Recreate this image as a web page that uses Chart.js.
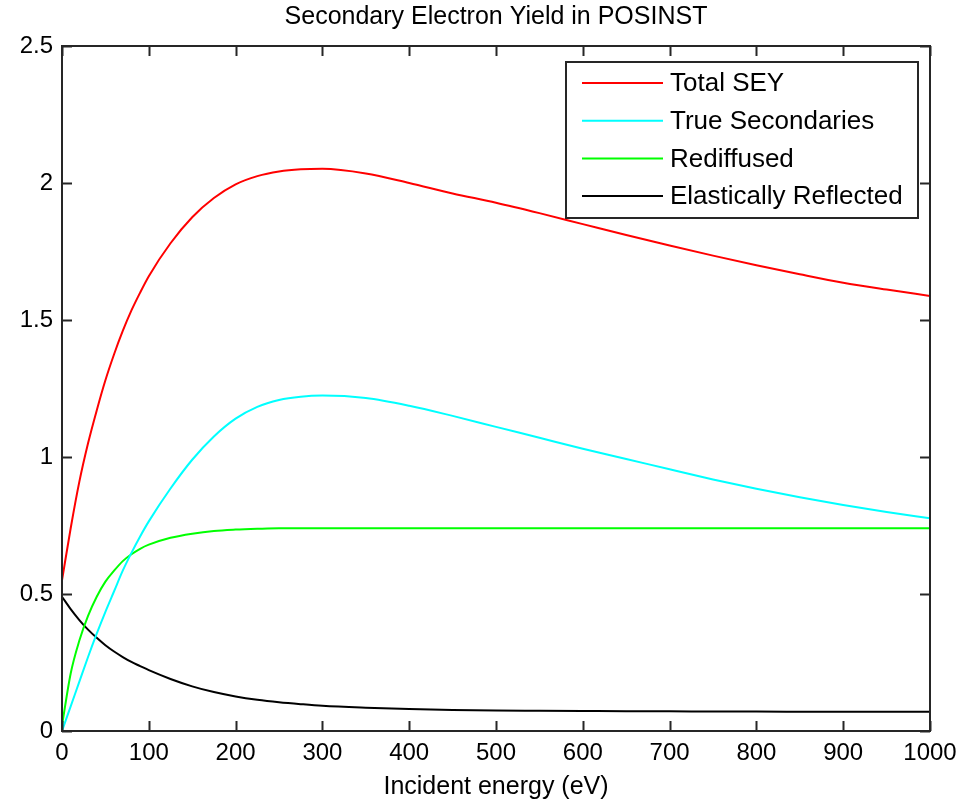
<!DOCTYPE html>
<html>
<head>
<meta charset="utf-8">
<title>Secondary Electron Yield in POSINST</title>
<script src="https://cdn.jsdelivr.net/npm/chart.js@4/dist/chart.umd.min.js"></script>
<style>
	html, body { margin: 0; padding: 0; background: #ffffff; }
	#box { position: relative; width: 960px; height: 802px; }
</style>
</head>
<body>
<div id="box"><canvas id="sey"></canvas></div>
<script>
// values (incident energy in eV)
var energy =     [0,    10,   20,   30,   40,   50,   60,    70,   80,    90,   100,
                  125,  150,   175,   200,   225,   250,   275,   300,
                  350,   400,   450,   500,   550,   600,   650,   700,   750,   800,   850,   900,   950,   1000];
var totalSey =   [0.55, 0.74, 0.91, 1.05, 1.17, 1.28, 1.375, 1.46, 1.535, 1.60, 1.66,
                  1.78, 1.875, 1.945, 1.995, 2.025, 2.042, 2.05,  2.052,
                  2.035, 2.00,  1.962, 1.928, 1.89,  1.85,  1.81,  1.772, 1.735, 1.70,  1.667, 1.636, 1.611, 1.588];
var trueSec =    [0.00, 0.09, 0.18, 0.27, 0.355,0.435,0.51,  0.585,0.65,  0.71, 0.765,
                  0.885,0.99,  1.075, 1.14,  1.183, 1.208, 1.22,  1.224,
                  1.215, 1.187, 1.15,  1.11,  1.07,  1.03,  0.993, 0.955, 0.918, 0.884, 0.853, 0.825, 0.799, 0.776];
var rediffused = [0.02, 0.21, 0.33, 0.42, 0.49, 0.545,0.585, 0.62, 0.645, 0.665,0.68,
                  0.705,0.72,  0.73,  0.735, 0.738, 0.74,  0.74,  0.74,
                  0.74,  0.74,  0.74,  0.74,  0.74,  0.74,  0.74,  0.74,  0.74,  0.74,  0.74,  0.74,  0.74,  0.74];
var elastic =    [0.49, 0.445,0.405,0.37, 0.34, 0.313,0.29,  0.27, 0.252, 0.237,0.222,
                  0.19, 0.163, 0.142, 0.126, 0.114, 0.105, 0.098, 0.092,
                  0.085, 0.08,  0.077, 0.075, 0.074, 0.073, 0.072, 0.072, 0.071, 0.071, 0.0705,0.07,  0.07,  0.07];

var seriesNames =  ["Total SEY", "True Secondaries", "Rediffused", "Elastically Reflected"];
var seriesColors = ["#ff0000", "#00ffff", "#00ff00", "#000000"];
var yTicks = [0, 0.5, 1, 1.5, 2, 2.5];
var xTicks = [0, 100, 200, 300, 400, 500, 600, 700, 800, 900, 1000];

var fontName = "'Liberation Sans', Arial, sans-serif";
var axisColor = "#262626";

function toPoints(values)
{
	let pts = [];
	for (let i = 0; i < energy.length; i++)
	{
		pts.push({x: energy[i], y: values[i]});
	}
	return pts;
}

// frame, inward ticks on all four sides, and the boxed legend
var matlabAxes =
{
	id: "matlabAxes",
	afterDatasetsDraw: function(chart)
	{
		let ctx = chart.ctx;
		let area = chart.chartArea;
		let xs = chart.scales.x;
		let ys = chart.scales.y;
		let tick = 10;

		ctx.save();
		ctx.strokeStyle = axisColor;
		ctx.lineWidth = 2;
		ctx.beginPath();
		for (let i = 0; i < xTicks.length; i++)
		{
			let px = Math.round(xs.getPixelForValue(xTicks[i])) + 0.5;
			ctx.moveTo(px, area.bottom);
			ctx.lineTo(px, area.bottom - tick);
			ctx.moveTo(px, area.top);
			ctx.lineTo(px, area.top + tick);
		}
		for (let i = 0; i < yTicks.length; i++)
		{
			let py = Math.round(ys.getPixelForValue(yTicks[i])) + 0.5;
			ctx.moveTo(area.left, py);
			ctx.lineTo(area.left + tick, py);
			ctx.moveTo(area.right, py);
			ctx.lineTo(area.right - tick, py);
		}
		ctx.stroke();
		ctx.strokeRect(area.left, area.top, area.right - area.left, area.bottom - area.top);

		// legend
		let lw = 352, lh = 156;
		let lx = area.right - 12 - lw;
		let ly = area.top + 16;
		ctx.fillStyle = "#ffffff";
		ctx.fillRect(lx, ly, lw, lh);
		ctx.strokeRect(lx, ly, lw, lh);
		ctx.font = "26px " + fontName;
		ctx.textBaseline = "middle";
		ctx.textAlign = "left";
		let sets = chart.data.datasets;
		for (let i = 0; i < sets.length; i++)
		{
			let rowY = ly + 21 + i * 37.7;
			ctx.strokeStyle = sets[i].borderColor;
			ctx.lineWidth = 2;
			ctx.beginPath();
			ctx.moveTo(lx + 16, rowY);
			ctx.lineTo(lx + 97, rowY);
			ctx.stroke();
			ctx.fillStyle = "#000000";
			ctx.fillText(sets[i].label, lx + 104, rowY + 1);
		}
		ctx.restore();
	}
};

var allValues = [totalSey, trueSec, rediffused, elastic];
var datasets = [];
for (let i = 0; i < allValues.length; i++)
{
	datasets.push({
		label: seriesNames[i],
		data: toPoints(allValues[i]),
		borderColor: seriesColors[i],
		backgroundColor: seriesColors[i],
		borderWidth: 2,
		pointRadius: 0,
		fill: false,
		cubicInterpolationMode: "monotone"
	});
}

var sey = new Chart("sey",
{
	type: "line",
	data: { datasets: datasets },
	options:
	{
		responsive: true,
		maintainAspectRatio: false,
		animation: false,
		layout: { padding: { left: 0, right: 30, top: 0, bottom: 0 } },
		plugins:
		{
			legend: { display: false },
			tooltip: { enabled: false },
			title:
			{
				display: true,
				fullSize: false,
				text: "Secondary Electron Yield in POSINST",
				color: "#000000",
				font: { family: fontName, size: 25, weight: "normal", lineHeight: 1.2 },
				padding: { top: 2, bottom: 14 }
			}
		},
		scales:
		{
			x:
			{
				type: "linear",
				min: 0,
				max: 1000,
				afterFit: function(scale)
				{
					scale.height = 71;
					scale.paddingLeft = 0;
					scale.paddingRight = 0;
				},
				afterBuildTicks: function(scale) { scale.ticks = xTicks.map(function(v) { return {value: v}; }); },
				grid: { display: false, drawTicks: false },
				border: { display: false },
				ticks:
				{
					color: "#000000",
					padding: 8,
					maxRotation: 0,
					font: { family: fontName, size: 24 },
					callback: function(v) { return String(v); }
				},
				title:
				{
					display: true,
					text: "Incident energy (eV)",
					color: "#000000",
					font: { family: fontName, size: 25, lineHeight: 1.2 },
					padding: 0
				}
			},
			y:
			{
				min: 0,
				max: 2.5,
				afterFit: function(scale) { scale.width = 62; },
				afterBuildTicks: function(scale) { scale.ticks = yTicks.map(function(v) { return {value: v}; }); },
				grid: { display: false, drawTicks: false },
				border: { display: false },
				ticks:
				{
					color: "#000000",
					padding: 9,
					font: { family: fontName, size: 24 },
					callback: function(v) { return String(v); }
				}
			}
		}
	},
	plugins: [matlabAxes]
});
</script>
</body>
</html>
